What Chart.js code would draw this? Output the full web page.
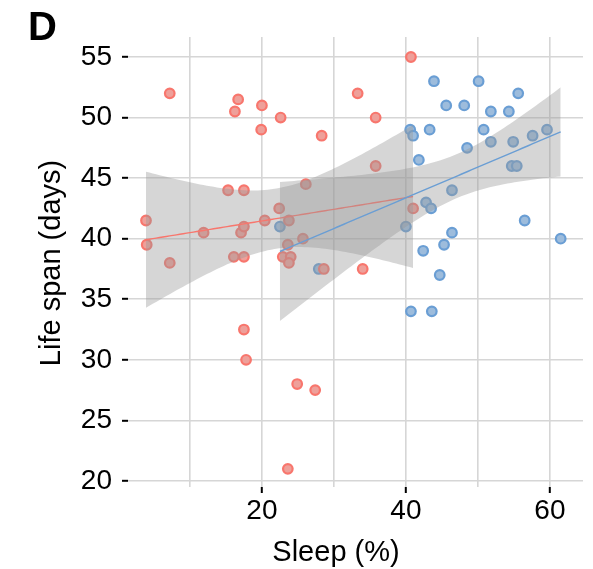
<!DOCTYPE html>
<html>
<head>
<meta charset="utf-8">
<script src="https://cdn.jsdelivr.net/npm/chart.js@4/dist/chart.umd.min.js"></script>
<style>
  html, body { margin: 0; padding: 0; background: #fff; }
  #wrap { position: relative; width: 593px; height: 569px; }
</style>
</head>
<body>
<div id="wrap"><canvas id="c"></canvas></div>
<script>
// ---- Data ----
const redSleep = [3.9, 4.0, 7.2, 7.2, 11.9, 15.3, 16.7, 16.25, 16.1, 17.5, 17.5, 17.1, 17.5, 20.4, 22.4, 17.5, 20.0, 19.9, 22.6, 40.7, 33.3, 35.8, 28.3, 35.8, 26.1, 23.75, 41.0, 23.6, 25.7, 22.9, 24.0, 23.75, 28.6, 34.0, 17.8, 24.9, 27.4, 23.6];
const redLife  = [41.5, 39.5, 52.0, 38.0, 40.5, 44.0, 51.5, 50.5, 38.5, 38.5, 44.0, 40.5, 41.0, 41.5, 42.5, 32.5, 51.0, 49.0, 50.0, 55.0, 52.0, 50.0, 48.5, 46.0, 44.5, 41.5, 42.5, 39.5, 40.0, 38.5, 38.5, 38.0, 37.5, 37.5, 30.0, 28.0, 27.5, 21.0];
const blueSleep = [22.5, 27.9, 40.0, 40.6, 41.0, 41.8, 42.8, 43.5, 42.4, 40.7, 43.6, 43.3, 43.9, 44.7, 45.3, 45.6, 46.4, 46.4, 48.1, 48.5, 50.1, 50.8, 51.8, 51.8, 54.3, 54.9, 54.7, 55.4, 55.6, 56.5, 57.6, 59.6, 61.5];
const blueLife  = [41.0, 37.5, 41.0, 49.0, 48.5, 46.5, 43.0, 42.5, 39.0, 34.0, 34.0, 49.0, 53.0, 37.0, 39.5, 51.0, 44.0, 40.5, 51.0, 47.5, 53.0, 49.0, 50.5, 48.0, 50.5, 48.0, 46.0, 46.0, 52.0, 41.5, 48.5, 49.0, 40.0];
const xTickValues = [10, 20, 30, 40, 50, 60];
const xTickLabels = ['', '20', '', '40', '', '60'];
const yTickValues = [20, 25, 30, 35, 40, 45, 50, 55];
const yTickLabels = ['20', '25', '30', '35', '40', '45', '50', '55'];

// ---- Linear fit with 95% confidence band (as geom_smooth(method = "lm")) ----
function lmBand(xs, ys, steps) {
  const n = xs.length;
  const mx = xs.reduce((a, b) => a + b, 0) / n;
  const my = ys.reduce((a, b) => a + b, 0) / n;
  let sxx = 0, sxy = 0;
  for (let i = 0; i < n; i++) { sxx += (xs[i] - mx) ** 2; sxy += (xs[i] - mx) * (ys[i] - my); }
  const b = sxy / sxx, a = my - b * mx;
  let sse = 0;
  for (let i = 0; i < n; i++) sse += (ys[i] - a - b * xs[i]) ** 2;
  const df = n - 2, s = Math.sqrt(sse / df), z = 1.959964;
  const t = z + (z ** 3 + z) / (4 * df) + (5 * z ** 5 + 16 * z ** 3 + 3 * z) / (96 * df * df);
  const lo = Math.min(...xs), hi = Math.max(...xs);
  const fit = [], upper = [], lower = [];
  for (let k = 0; k < steps; k++) {
    const x = lo + (hi - lo) * k / (steps - 1);
    const yh = a + b * x;
    const se = s * Math.sqrt(1 / n + (x - mx) ** 2 / sxx);
    fit.push({ x, y: yh });
    upper.push({ x, y: yh + t * se });
    lower.push({ x, y: yh - t * se });
  }
  return { fit, upper, lower };
}

const redFit = lmBand(redSleep, redLife, 80);
const blueFit = lmBand(blueSleep, blueLife, 80);
const toPts = (xs, ys) => xs.map((x, i) => ({ x, y: ys[i] }));

const RED = '#F8766D', BLUE = '#6A9ED4';
const BAND = 'rgba(153,153,153,0.4)';
const FONT = '"Liberation Sans", Arial, Helvetica, sans-serif';

const textPlugin = {
  id: 'texts',
  afterDraw(chart) {
    const ctx = chart.ctx;
    ctx.save();
    ctx.fillStyle = '#000';
    ctx.textBaseline = 'alphabetic';
    ctx.font = 'bold 40px ' + FONT;
    ctx.textAlign = 'left';
    ctx.fillText('D', 28, 40);
    ctx.font = '29px ' + FONT;
    ctx.textAlign = 'center';
    ctx.fillText('Sleep (%)', 336, 561);
    ctx.translate(60, 263);
    ctx.rotate(-Math.PI / 2);
    ctx.fillText('Life span (days)', 0, 0);
    ctx.restore();
  }
};

new Chart(document.getElementById('c'), {
  type: 'scatter',
  data: {
    datasets: [
      { label: 'red', data: toPts(redSleep, redLife), order: 10,
        pointRadius: 4.8, pointBorderWidth: 2.2, borderColor: RED, backgroundColor: '#EEA09A', pointHoverRadius: 4.8 },
      { label: 'blue', data: toPts(blueSleep, blueLife), order: 10,
        pointRadius: 4.8, pointBorderWidth: 2.2, borderColor: BLUE, backgroundColor: '#9DBCDC', pointHoverRadius: 4.8 },
      { type: 'line', label: 'redLower', data: redFit.lower, order: 5, showLine: true,
        borderWidth: 0, borderColor: 'rgba(0,0,0,0)', pointRadius: 0, fill: false },
      { type: 'line', label: 'redUpper', data: redFit.upper, order: 5, showLine: true,
        borderWidth: 0, borderColor: 'rgba(0,0,0,0)', pointRadius: 0, fill: { target: 2 }, backgroundColor: BAND },
      { type: 'line', label: 'redFit', data: redFit.fit, order: 4, showLine: true,
        borderWidth: 1.4, borderColor: RED, pointRadius: 0, fill: false },
      { type: 'line', label: 'blueLower', data: blueFit.lower, order: 3, showLine: true,
        borderWidth: 0, borderColor: 'rgba(0,0,0,0)', pointRadius: 0, fill: false },
      { type: 'line', label: 'blueUpper', data: blueFit.upper, order: 3, showLine: true,
        borderWidth: 0, borderColor: 'rgba(0,0,0,0)', pointRadius: 0, fill: { target: 5 }, backgroundColor: BAND },
      { type: 'line', label: 'blueFit', data: blueFit.fit, order: 2, showLine: true,
        borderWidth: 1.4, borderColor: BLUE, pointRadius: 0, fill: false }
    ]
  },
  options: {
    responsive: true,
    maintainAspectRatio: false,
    animation: false,
    events: [],
    layout: { padding: { top: 37, right: 10, left: 0, bottom: 0 } },
    plugins: { legend: { display: false }, tooltip: { enabled: false }, title: { display: false } },
    scales: {
      x: {
        type: 'linear', min: 1.4, max: 64.6,
        afterBuildTicks: s => { s.ticks = xTickValues.map(v => ({ value: v })); },
        afterFit: s => { s.height = 82; },
        border: { display: false },
        grid: {
          color: '#D6D6D6', lineWidth: 1.6, drawTicks: true, tickLength: 6, tickWidth: 2,
          tickColor: ctx => (ctx.tick && xTickLabels[xTickValues.indexOf(ctx.tick.value)] !== '' ? '#000' : 'rgba(0,0,0,0)')
        },
        ticks: {
          color: '#000', font: { family: FONT, size: 28 }, padding: 1, maxRotation: 0, autoSkip: false,
          callback: (v) => { const i = xTickValues.indexOf(v); return i >= 0 ? xTickLabels[i] : ''; }
        }
      },
      y: {
        type: 'linear', min: 19.5, max: 56.65,
        afterBuildTicks: s => { s.ticks = yTickValues.map(v => ({ value: v })); },
        afterFit: s => { s.width = 128; },
        border: { display: false },
        grid: { color: '#D6D6D6', lineWidth: 1.6, drawTicks: true, tickLength: 6, tickWidth: 2, tickColor: '#000' },
        ticks: {
          color: '#000', font: { family: FONT, size: 28 }, padding: 10, autoSkip: false,
          callback: (v) => { const i = yTickValues.indexOf(v); return i >= 0 ? yTickLabels[i] : ''; }
        }
      }
    }
  },
  plugins: [textPlugin]
});
</script>
</body>
</html>
